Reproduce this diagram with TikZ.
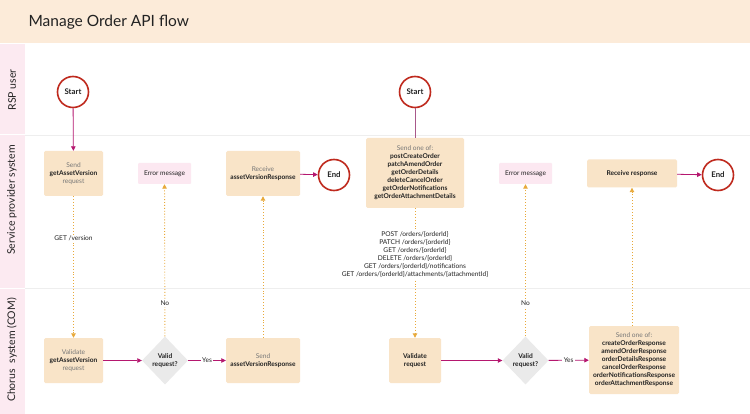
\documentclass[tikz,border=0pt]{standalone}
\usepackage{fontspec}
\setmainfont{Lato}
\usetikzlibrary{shapes.geometric,arrows.meta}
\definecolor{band}{HTML}{FCEBD9}
\definecolor{lanefill}{HTML}{FCEAF1}
\definecolor{boxfill}{HTML}{F9E4C8}
\definecolor{errfill}{HTML}{FCE8F1}
\definecolor{diafill}{HTML}{EAEAEA}
\definecolor{ring}{HTML}{BF2A1E}
\definecolor{flow}{HTML}{B5176F}
\definecolor{mauve}{HTML}{A8588A}
\definecolor{dotc}{HTML}{E8A93A}
\definecolor{sepc}{HTML}{EEEEEE}
\definecolor{txt}{HTML}{222222}
\definecolor{lighttxt}{HTML}{777777}
\tikzset{
  stepbox/.style={fill=boxfill, rounded corners=1.5pt, align=center, inner sep=1pt, text=txt},
  errbox/.style={fill=errfill, rounded corners=1pt, minimum width=53pt, minimum height=21pt, inner sep=0pt, text=txt},
  terminal/.style={circle, draw=ring, line width=1.6pt, fill=white, minimum size=31pt, inner sep=0pt, font=\fontsize{7.8}{9}\selectfont\bfseries, text=txt},
  decide/.style={diamond, fill=diafill, minimum width=46pt, minimum height=48pt, inner sep=0pt, align=center, font=\fontsize{6.6}{8}\selectfont\bfseries, text=txt},
  flowarrow/.style={draw=flow, line width=0.8pt, -{Triangle[length=4.5pt,width=4.5pt]}},
  plainline/.style={draw=mauve, line width=0.7pt},
  dotarrow/.style={draw=dotc, line width=0.9pt, dotted, -{Triangle[length=4.5pt,width=4.5pt]}},
  elabel/.style={fill=white, inner sep=1.5pt, text=txt, align=center},
  lanelabel/.style={rotate=90, font=\fontsize{10.5}{12}\selectfont, text=txt}
}
\newcommand{\lite}[1]{\textcolor{lighttxt}{#1}}
\begin{document}
\begin{tikzpicture}[x=1pt,y=-1pt, font=\fontsize{6.6}{8}\selectfont]
\useasboundingbox (0,0) rectangle (750,414);
\fill[white] (0,0) rectangle (750,414);
% title band
\fill[band] (0,0) rectangle (750,43);
\node[anchor=west, font=\fontsize{15.5}{18}\selectfont, text=txt] (title) at (25,22) {Manage Order API flow};
% lanes
\fill[lanefill] (0,44) rectangle (25,134.5);
\fill[lanefill] (0,135.5) rectangle (25,288);
\fill[lanefill] (0,289) rectangle (25,414);
\draw[sepc, line width=0.8pt] (25,135) -- (750,135);
\draw[sepc, line width=0.8pt] (25,288.5) -- (750,288.5);
\node[lanelabel] (l1) at (12,90) {RSP user};
\node[lanelabel] (l2) at (12,200) {Service provider system};
\node[lanelabel] (l3) at (12,350) {Chorus\ \ system (COM)};

% ---- left flow ----
\node[terminal] (start1) at (73,92) {Start};
\node[stepbox, minimum width=59pt, minimum height=45pt] (send1) at (73.5,173.5) {\lite{Send}\\\textbf{getAssetVersion}\\\lite{request}};
\node[errbox] (err1) at (164.5,173.5) {Error message};
\node[stepbox, minimum width=74pt, minimum height=45pt] (recv1) at (263,173.5) {\lite{Receive}\\\textbf{assetVersionResponse}};
\node[terminal] (end1) at (334,175) {End};
\node[stepbox, minimum width=59pt, minimum height=45pt] (val1) at (73.5,360.5) {\lite{Validate}\\\textbf{getAssetVersion}\\\lite{request}};
\node[decide] (dec1) at (165,360.5) {Valid\\request?};
\node[stepbox, minimum width=74pt, minimum height=45pt] (sendr1) at (263,360.5) {\lite{Send}\\\textbf{assetVersionResponse}};

\draw[flowarrow] (start1) -- (send1);
\draw[flowarrow] (recv1) -- (end1);
\draw[dotarrow] (send1) -- node[elabel, pos=0.3] {GET /version} (val1);
\draw[flowarrow] (val1) -- (dec1);
\draw[dotarrow] (dec1) -- node[elabel, pos=0.22] {No} (err1);
\draw[flowarrow] (dec1) -- node[elabel] {Yes} (sendr1);
\draw[dotarrow] (sendr1) -- (recv1);

% ---- right flow ----
\node[terminal] (start2) at (415,92) {Start};
\node[stepbox, minimum width=98pt, minimum height=70pt] (send2) at (415,173) {\lite{Send one of:}\\\textbf{postCreateOrder}\\\textbf{patchAmendOrder}\\\textbf{getOrderDetails}\\\textbf{deleteCancelOrder}\\\textbf{getOrderNotifications}\\\textbf{getOrderAttachmentDetails}};
\node[errbox] (err2) at (525.5,173.5) {Error message};
\node[stepbox, minimum width=90pt, minimum height=28pt] (recv2) at (632,173.5) {\textbf{Receive response}};
\node[terminal] (end2) at (718,175) {End};
\node[stepbox, minimum width=52pt, minimum height=45pt] (val2) at (415,360.5) {\textbf{Validate}\\\textbf{request}};
\node[decide] (dec2) at (525.5,360.5) {Valid\\request?};
\node[stepbox, minimum width=90pt, minimum height=68pt] (sendr2) at (634,360) {\lite{Send one of:}\\\textbf{createOrderResponse}\\\textbf{amendOrderResponse}\\\textbf{orderDetailsResponse}\\\textbf{cancelOrderResponse}\\\textbf{orderNotificationsResponse}\\\textbf{orderAttachmentResponse}};

\draw[plainline] (start2) -- (send2);
\draw[flowarrow] (recv2) -- (end2);
\draw[dotarrow] (send2) -- node[elabel, pos=0.36] {POST /orders/\{orderId\}\\PATCH /orders/\{orderId\}\\GET /orders/\{orderId\}\\DELETE /orders/\{orderId\}\\GET /orders/\{orderId\}/notifications\\GET /orders/\{orderId\}/attachments/\{attachmentId\}} (val2);
\draw[flowarrow] (val2) -- (dec2);
\draw[dotarrow] (dec2) -- node[elabel, pos=0.22] {No} (err2);
\draw[flowarrow] (dec2) -- node[elabel] {Yes} (sendr2);
\draw[dotarrow] (sendr2.north -| recv2) -- (recv2);
\end{tikzpicture}
\end{document}
